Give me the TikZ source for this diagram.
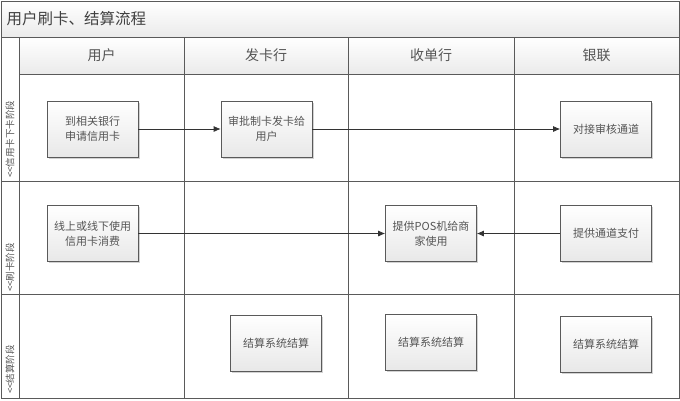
\documentclass[tikz,border=0pt]{standalone}
\usepackage{fontspec}
\newfontfamily\cjk{Noto Sans CJK SC}
\usetikzlibrary{arrows.meta,shadows}
\definecolor{lanegray}{HTML}{5A5A5A}
\definecolor{txtgray}{HTML}{555555}
\begin{document}
\begin{tikzpicture}[x=1pt,y=-1pt,
  lane/.style={draw=lanegray,line width=0.9pt},
  band/.style={lane,top color=white,bottom color=black!8},
  hdr/.style={font=\cjk\fontsize{14}{16}\selectfont,text=txtgray},
  side/.style={font=\cjk\fontsize{9.5}{11}\selectfont,text=txtgray,rotate=90,anchor=west,inner sep=0pt},
  box/.style={draw=lanegray,line width=0.7pt,top color=white,bottom color=black!9,
    minimum width=91pt,minimum height=56pt,align=center,inner sep=2pt,
    font=\cjk\fontsize{11}{15}\selectfont,text=txtgray,
    drop shadow={shadow xshift=1.5pt,shadow yshift=-1.5pt,opacity=0.35}},
  arr/.style={draw=black!80,line width=0.7pt,-{Latex[length=7pt,width=6pt]}}]
\useasboundingbox (0,0) rectangle (680,400);
\fill[white] (0,0) rectangle (680,400);
% title band
\path[band] (1,1) rectangle (679,37);
\node[font=\cjk\fontsize{15.5}{18}\selectfont,text=black!75,anchor=west] (title) at (3,19) {用户刷卡、结算流程};
% header band
\path[band] (19,37) rectangle (679,74);
\node[hdr] (h1) at (101.5,55.5) {用户};
\node[hdr] (h2) at (266,55.5) {发卡行};
\node[hdr] (h3) at (431,55.5) {收单行};
\node[hdr] (h4) at (596.5,55.5) {银联};
% lanes
\draw[lane] (1,1) rectangle (679,398);
\draw[lane] (19,37) -- (19,398);
\draw[lane] (184,37) -- (184,398);
\draw[lane] (348,37) -- (348,398);
\draw[lane] (514,37) -- (514,398);
\draw[lane] (1,181) -- (679,181);
\draw[lane] (1,294.5) -- (679,294.5);
% side labels
\node[side] (s1) at (10,178) {<{}<信用卡下卡阶段};
\node[side] (s2) at (10,292) {<{}<刷卡阶段};
\node[side] (s3) at (10,394) {<{}<结算阶段};
% boxes
\node[box] (b1) at (92.5,129) {到相关银行\\申请信用卡};
\node[box] (b2) at (266.5,129) {审批制卡发卡给\\用户};
\node[box] (b3) at (606,129) {对接审核通道};
\node[box] (b4) at (92.5,233.5) {线上或线下使用\\信用卡消费};
\node[box] (b5) at (431,233.5) {提供POS机给商\\家使用};
\node[box] (b6) at (606,233.5) {提供通道支付};
\node[box] (b7) at (276,343) {结算系统结算};
\node[box] (b8) at (431,342.5) {结算系统结算};
\node[box] (b9) at (606,344) {结算系统结算};
% connectors
\draw[arr] (b1) -- (b2);
\draw[arr] (b2) -- (b3);
\draw[arr] (b4) -- (b5);
\draw[arr] (b6) -- (b5);
\end{tikzpicture}
\end{document}
